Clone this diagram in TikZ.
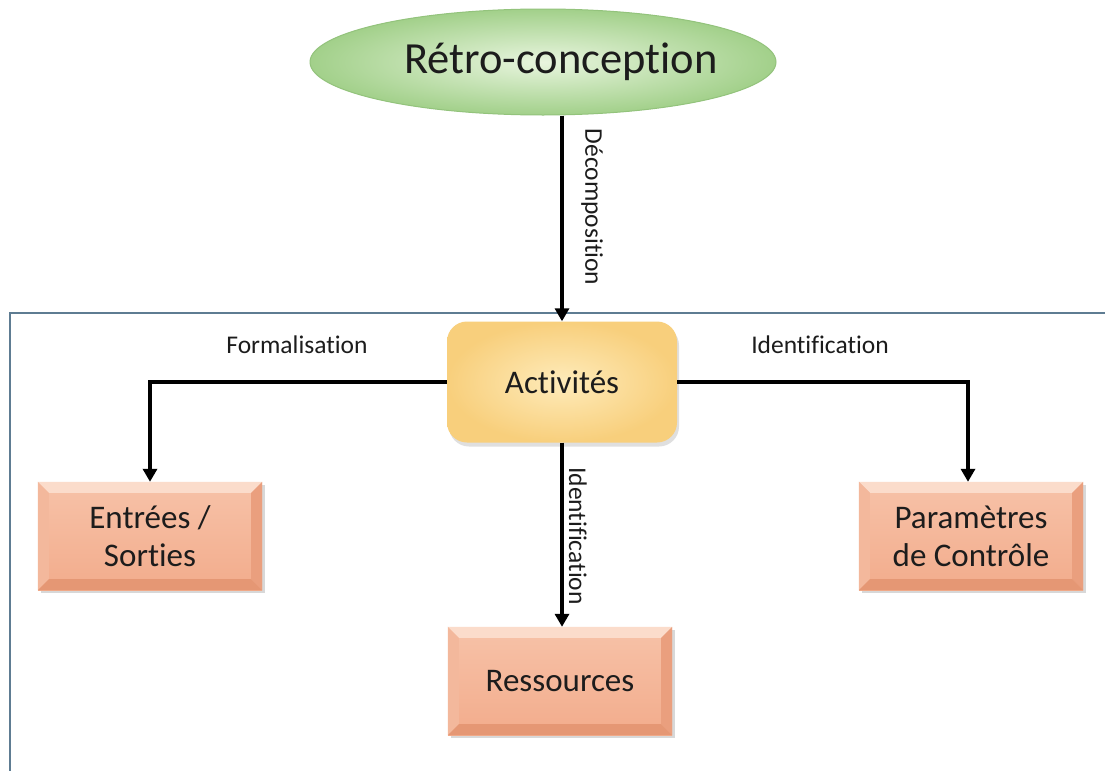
\documentclass[tikz,border=0pt]{standalone}
\usepackage{fontspec}
\setmainfont{Carlito}[Ligatures=CommonOff]
\usetikzlibrary{shapes.geometric,arrows.meta,shadows}
\definecolor{framec}{HTML}{5E7C92}
\definecolor{txt}{HTML}{1C1C1C}
\definecolor{grIn}{HTML}{E8F5DE}
\definecolor{grOut}{HTML}{A2D08A}
\definecolor{grRim}{HTML}{93C37C}
\definecolor{yeIn}{HTML}{FEEBBA}
\definecolor{yeOut}{HTML}{F8CF7C}
\definecolor{salT}{HTML}{F7C2A8}
\definecolor{salB}{HTML}{F2AC8C}
\definecolor{bvTop}{HTML}{FBDCCB}
\definecolor{bvLeft}{HTML}{F3B89C}
\definecolor{bvRight}{HTML}{EA9F7E}
\definecolor{bvBot}{HTML}{E59774}
\newcommand\bevelbox[1]{%
  \fill[bvTop] (#1.north west) -- (#1.north east) -- ([xshift=-11pt,yshift=-11pt]#1.north east) -- ([xshift=11pt,yshift=-11pt]#1.north west) -- cycle;
  \fill[bvLeft] (#1.north west) -- ([xshift=11pt,yshift=-11pt]#1.north west) -- ([xshift=11pt,yshift=11pt]#1.south west) -- (#1.south west) -- cycle;
  \fill[bvRight] (#1.north east) -- ([xshift=-11pt,yshift=-11pt]#1.north east) -- ([xshift=-11pt,yshift=11pt]#1.south east) -- (#1.south east) -- cycle;
  \fill[bvBot] (#1.south west) -- ([xshift=11pt,yshift=11pt]#1.south west) -- ([xshift=-11pt,yshift=11pt]#1.south east) -- (#1.south east) -- cycle;
}
\begin{document}
\begin{tikzpicture}[x=1pt,y=-1pt,
  arr/.style={line width=4pt,-{Triangle[length=13pt,width=14pt]}},
  lab/.style={font=\fontsize{25.5}{30}\selectfont, text=txt, inner sep=0pt},
  salbox/.style={rectangle, minimum width=224pt, minimum height=108pt, inner sep=0pt,
    top color=salT, bottom color=salB, align=center, text=txt,
    font=\fontsize{33}{38}\selectfont,
    drop shadow={shadow xshift=3pt,shadow yshift=-3pt,opacity=0.3}},
]
\useasboundingbox (0,0) rectangle (1105,771);
\fill[white] (0,0) rectangle (1105,771);
\draw[framec, line width=2.5pt] (1105,313) -- (10,313) -- (10,771);

\node[ellipse, minimum width=466pt, minimum height=106pt, inner sep=0pt,
  inner color=grIn, outer color=grOut, draw=grRim, line width=1pt,
  label={[xshift=18pt, text=txt, font=\fontsize{44.5}{50}\selectfont]center:Rétro-conception}]
  (retro) at (543,62) {};

\node[rectangle, rounded corners=20pt, minimum width=230pt, minimum height=121pt,
  inner color=yeIn, outer color=yeOut, text=txt, font=\fontsize{33}{38}\selectfont,
  drop shadow={shadow xshift=2pt,shadow yshift=-4pt,opacity=0.25}]
  (act) at (562,382) {Activités};

\node[salbox] (es) at (150,536) {};
\node[salbox] (pc) at (971,536) {};
\node[salbox] (rs) at (560,681) {};
\bevelbox{es}
\bevelbox{pc}
\bevelbox{rs}
\node[align=center, text=txt, font=\fontsize{33}{38}\selectfont] (esT) at (es) {Entrées /\\Sorties};
\node[align=center, text=txt, font=\fontsize{33}{38}\selectfont] (pcT) at (pc) {Paramètres\\de Contrôle};
\node[align=center, text=txt, font=\fontsize{33}{38}\selectfont] (rsT) at (rs) {Ressources};

\draw[arr] (act.north |- retro.south) -- (act.north);
\draw[arr] (act.west) -| (es.north);
\draw[arr] (act.east) -| ([xshift=-3pt]pc.north);
\draw[arr] (act.south) -- (act.south |- rs.north);

\node[lab] (lf) at (297,345) {Formalisation};
\node[lab] (li) at (820,345) {Identification};
\node[lab, rotate=-90] (ld) at (592,207) {Décomposition};
\node[lab, rotate=-90] (lr) at (578,536) {Identification};
\end{tikzpicture}
\end{document}
